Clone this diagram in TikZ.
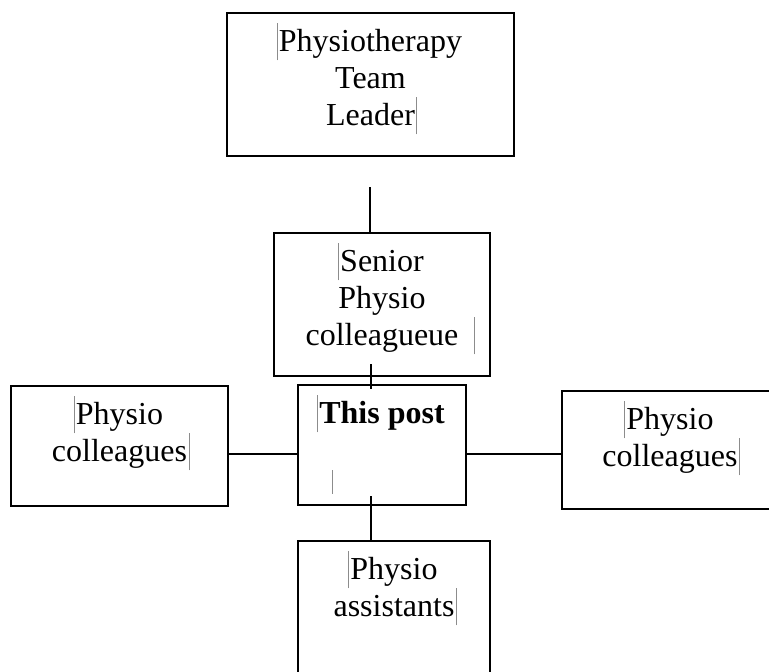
\documentclass[tikz,border=0pt]{standalone}
\usepackage{fontspec}
\setmainfont{Liberation Serif}
\definecolor{mkgray}{gray}{0.55}
\tikzstyle{box}=[draw, rectangle, line width=1.8pt, inner sep=0pt]
\tikzstyle{txt}=[anchor=north, inner sep=0pt, align=center, font=\fontsize{32}{37}\selectfont]
\tikzstyle{link}=[line width=1.8pt]
\tikzstyle{mkline}=[mkgray, line width=0.7pt]
\newcommand{\txtstrut}{\rule{0pt}{39pt}}
\newcommand{\mkopen}{\llap{\textcolor{mkgray}{\rule[-9pt]{0.7pt}{37pt}}\kern1.5pt}}
\newcommand{\mkclose}[1][1.5pt]{\rlap{\kern#1\textcolor{mkgray}{\rule[-9pt]{0.7pt}{37pt}}}}
\begin{document}
\begin{tikzpicture}[x=1pt, y=-1pt]
\useasboundingbox (0,0) rectangle (769,672);
\clip (0,0) rectangle (769,672);
\draw (370.5,84.5) node[box, minimum width=287pt, minimum height=143pt] (leader) {};
\draw (382,304.5) node[box, minimum width=216pt, minimum height=143pt] (senior) {};
\draw (382,445) node[box, minimum width=168pt, minimum height=120pt] (post) {};
\draw (119.5,446) node[box, minimum width=217pt, minimum height=120pt] (colL) {};
\draw (670,450) node[box, minimum width=216pt, minimum height=118pt] (colR) {};
\draw (394,621) node[box, minimum width=192pt, minimum height=160pt] (assist) {};

\draw (leader.north) node[txt] (leaderT) {\txtstrut\mkopen Physiotherapy\\Team\\Leader\mkclose};
\draw (senior.north) node[txt] (seniorT) {\txtstrut\mkopen Senior\\Physio\\colleagueue\mkclose[16pt]};
\draw (post.north) node[txt] (postT) {\txtstrut\mkopen\textbf{This post}};
\draw (colL.north) node[txt] (colLT) {\txtstrut\mkopen Physio\\colleagues\mkclose};
\draw (colR.north) node[txt] (colRT) {\txtstrut\mkopen Physio\\colleagues\mkclose};
\draw (assist.north) node[txt] (assistT) {\txtstrut\mkopen Physio\\assistants\mkclose};
\draw[mkline] (332,470) -- (332,494);

\coordinate (t1) at (370,187);
\coordinate (s1) at (371,364);
\coordinate (s2) at (371,389);
\coordinate (p1) at (371,496);
\draw[link] (t1) -- (t1 |- senior.north);
\draw[link] (s1) -- (s2);
\draw[link] (p1) -- (p1 |- assist.north);
\draw[link] ([yshift=-8pt]colL.east) -- ([yshift=-9pt]post.west);
\draw[link] ([yshift=-9pt]post.east) -- ([yshift=-4pt]colR.west);
\end{tikzpicture}
\end{document}
